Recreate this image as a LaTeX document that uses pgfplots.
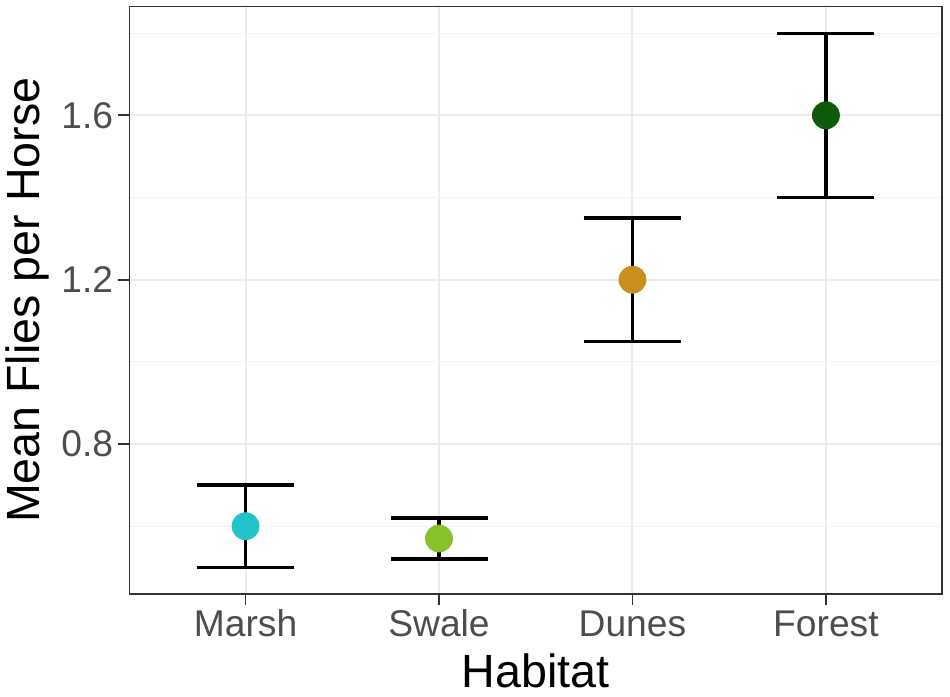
\documentclass[border=0pt]{standalone}
\usepackage{fontspec}
\setmainfont{Liberation Sans}
\usepackage{pgfplots}
\pgfplotsset{compat=1.18}
\definecolor{cMarsh}{HTML}{20C3C9}
\definecolor{cSwale}{HTML}{88C12A}
\definecolor{cDunes}{HTML}{C98E1E}
\definecolor{cForest}{HTML}{0B5B0B}
\definecolor{tickgrey}{HTML}{4D4D4D}
\definecolor{framegrey}{HTML}{333333}
\definecolor{gridmaj}{HTML}{EBEBEB}
\definecolor{gridmin}{HTML}{F2F2F2}
\begin{document}
\begin{tikzpicture}
\begin{axis}[
  at={(64.75pt,51.5pt)}, anchor=south west,
  scale only axis, width=406.25pt, height=293.75pt,
  xmin=0.4, xmax=4.6, ymin=0.435, ymax=1.865,
  xtick={1,2,3,4}, xticklabels={Marsh,Swale,Dunes,Forest},
  ytick={0.8,1.2,1.6}, yticklabels={0.8,1.2,1.6},
  minor ytick={0.6,1.0,1.4,1.8},
  xmajorgrids, ymajorgrids, yminorgrids,
  major grid style={draw=gridmaj, line width=1pt},
  minor grid style={draw=gridmin, line width=0.6pt},
  axis line style={draw=framegrey, line width=0.9pt},
  tick style={draw=framegrey, line width=0.9pt},
  minor tick length=0pt,
  tick align=outside, major tick length=5.5pt,
  xtick pos=lower, ytick pos=left,
  ticklabel style={font=\fontsize{18.6}{20}\selectfont, text=tickgrey},
  xticklabel style={inner sep=0pt, anchor=base, yshift=-15.8pt},
  yticklabel style={inner sep=0pt, anchor=east, xshift=-2.5pt},
  xlabel={Habitat}, ylabel={Mean Flies per Horse},
  label style={font=\fontsize{23.3}{26}\selectfont, text=black},
  xlabel style={at={(axis description cs:0.5,0)}, anchor=base, yshift=-47pt, inner sep=0pt},
  ylabel style={at={(axis description cs:0,0.5)}, anchor=base, yshift=44.75pt, inner sep=0pt},
  clip=false,
]
\addplot[only marks, mark=*, mark size=6.75pt, color=cMarsh, mark options={draw=cMarsh, fill=cMarsh}] coordinates {(1,0.6)};
\addplot[only marks, mark=*, mark size=6.75pt, color=cSwale, mark options={draw=cSwale, fill=cSwale}] coordinates {(2,0.57)};
\addplot[only marks, mark=*, mark size=6.75pt, color=cDunes, mark options={draw=cDunes, fill=cDunes}] coordinates {(3,1.2)};
\addplot[only marks, mark=*, mark size=6.75pt, color=cForest, mark options={draw=cForest, fill=cForest}] coordinates {(4,1.6)};
\addplot[draw=none, mark=none,
  error bars/.cd, y dir=both, y explicit,
  error bar style={line width=1.65pt, black},
  error mark options={rotate=90, mark size=24.25pt, line width=1.65pt, black}]
  coordinates {(1,0.6) +- (0,0.1) (2,0.57) +- (0,0.05) (3,1.2) +- (0,0.15) (4,1.6) +- (0,0.2)};
\end{axis}
\pgfresetboundingbox
\useasboundingbox (0,0) rectangle (475pt,348.5pt);
\end{tikzpicture}
\end{document}
